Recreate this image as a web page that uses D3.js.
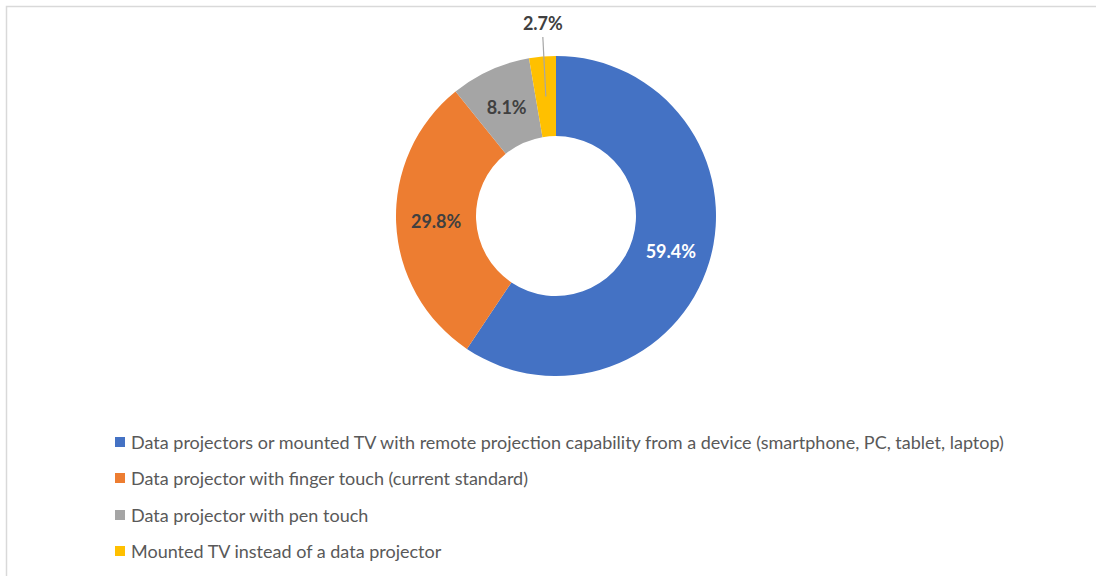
<!DOCTYPE html>
<html>
<head>
<meta charset="utf-8">
<script src="https://cdn.jsdelivr.net/npm/d3@7"></script>
<style>
  html, body { margin: 0; padding: 0; background: #fff; }
  svg { display: block; }
  text { font-family: Lato, "Open Sans", "Liberation Sans", sans-serif; }
</style>
</head>
<body>
<svg id="chart" width="1096" height="576"></svg>
<script>
// Preferred classroom display technology (share of responses, %)
const categories = [
  "Data projectors or mounted TV with remote projection capability from a device (smartphone, PC, tablet, laptop)",
  "Data projector with finger touch (current standard)",
  "Data projector with pen touch",
  "Mounted TV instead of a data projector"
];
const shares = [59.4, 29.8, 8.1, 2.7];
const labels = ["59.4%", "29.8%", "8.1%", "2.7%"];
const colors = ["#4472C4", "#ED7D31", "#A5A5A5", "#FFC000"];
const labelColors = ["#FFFFFF", "#404040", "#404040", "#404040"];

const svg = d3.select("#chart");
const W = 1096, H = 576;

// chart frame
svg.append("rect")
  .attr("x", 6.5).attr("y", 6.5)
  .attr("width", W + 10).attr("height", H + 10)
  .attr("fill", "#fff")
  .attr("stroke", "#D9D9D9").attr("stroke-width", 1.5);

const cx = 556, cy = 216, rOuter = 160, rInner = 80;

const data = categories.map((c, i) => ({ name: c, value: shares[i], label: labels[i], color: colors[i], lc: labelColors[i] }));

const pie = d3.pie().value(d => d.value).sort(null);
const arcs = pie(data);
const arc = d3.arc().innerRadius(rInner).outerRadius(rOuter);
const midArc = d3.arc().innerRadius(120).outerRadius(120);

const g = svg.append("g").attr("transform", `translate(${cx},${cy})`);

g.selectAll("path.slice")
  .data(arcs)
  .join("path")
  .attr("class", "slice")
  .attr("d", arc)
  .attr("fill", d => d.data.color);

const labelSize = 18;

// value labels: inside the ring, except the thin last slice which gets a leader line
arcs.forEach((a, i) => {
  const [x, y] = midArc.centroid(a);
  let lx = x, ly = y;
  if (i === arcs.length - 1) {
    lx = x - 3; ly = -193;
    g.append("line")
      .attr("x1", x).attr("y1", y)
      .attr("x2", lx).attr("y2", ly + 14)
      .attr("stroke", "#A6A6A6").attr("stroke-width", 1.2);
  }
  g.append("text")
    .attr("x", lx).attr("y", ly)
    .attr("text-anchor", "middle")
    .attr("dominant-baseline", "central")
    .attr("font-size", labelSize).attr("font-weight", "bold")
    .attr("fill", a.data.lc)
    .text(a.data.label);
});

// legend
const legend = svg.append("g").attr("transform", "translate(115,0)");
const rowY = [442, 478, 515, 551];
const rows = legend.selectAll("g.row")
  .data(data)
  .join("g")
  .attr("class", "row")
  .attr("transform", (d, i) => `translate(0,${rowY[i]})`);

rows.append("rect")
  .attr("x", 0).attr("y", -5)
  .attr("width", 10).attr("height", 10)
  .attr("fill", d => d.color);

const texts = rows.append("text")
  .attr("x", 16).attr("y", 0)
  .attr("dominant-baseline", "central")
  .attr("font-size", 17)
  .attr("fill", "#595959")
  .text(d => d.name);

// scale the legend type so the longest entry spans the legend width
const natural = texts.nodes()[0].getComputedTextLength();
const fs = 17 * 873 / natural;
texts.attr("font-size", fs.toFixed(2));
</script>
</body>
</html>
